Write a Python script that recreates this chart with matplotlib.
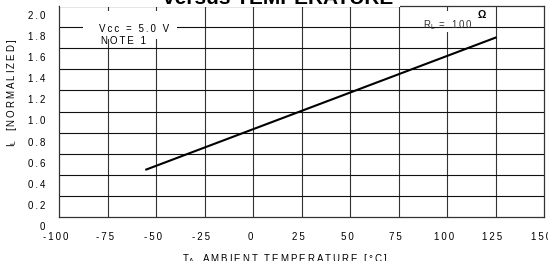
import matplotlib
matplotlib.use("Agg")
import matplotlib.pyplot as plt
import matplotlib.transforms as mtransforms
from matplotlib.patches import Rectangle

plt.rcParams['font.family'] = ['Liberation Sans', 'DejaVu Sans']

# data
temp = [-55, 125]
il_norm = [0.45, 1.70]
xticks = [-100, -75, -50, -25, 0, 25, 50, 75, 100, 125, 150]
yticks = [0, 0.2, 0.4, 0.6, 0.8, 1.0, 1.2, 1.4, 1.6, 1.8, 2.0]


def sp(s):
    # wide letter spacing like the original datasheet
    return '\u2009'.join(s)


fig = plt.figure(figsize=(5.48, 2.61), dpi=100)
ax = fig.add_axes([59/548, 44/261, 485/548, 211/261])
ax.set_xlim(-100, 150)
ax.set_ylim(0, 2.0)

# grid drawn by hand so boxes can hide parts of it
for x in xticks[1:-1]:
    ax.axvline(x, color='#333333', lw=0.8, zorder=0.5)
for y in yticks[1:-1]:
    ax.axhline(y, color='#111111', lw=0.8, zorder=1.5)

ax.plot(temp, il_norm, color='black', lw=1.5, zorder=3)

for s in ax.spines.values():
    s.set_color('#333333')
    s.set_linewidth(0.9)

ax.set_xticks(xticks)
ax.set_yticks(yticks)
ax.set_xticklabels([sp(str(v)) for v in xticks])
ax.set_yticklabels([sp('0' if v == 0 else f'{v:.1f}') for v in yticks])
ax.tick_params(length=0, labelsize=7, colors='black')
ax.tick_params(axis='y', pad=10)
ax.tick_params(axis='x', pad=11)
yoff = mtransforms.ScaledTranslation(0, -0.09, fig.dpi_scale_trans)
for lab in ax.get_yticklabels():
    lab.set_transform(lab.get_transform() + yoff)
xoff = mtransforms.ScaledTranslation(-0.03, 0, fig.dpi_scale_trans)
for lab in ax.get_xticklabels():
    lab.set_transform(lab.get_transform() + xoff)

# white boxes behind annotations
ax.add_patch(Rectangle((-87.6, 1.685), 48.4, 0.27, facecolor='white',
                       edgecolor='none', zorder=2))
ax.add_patch(Rectangle((97, 1.754), 6, 0.2, facecolor='white',
                       edgecolor='none', zorder=1))
ax.add_patch(Rectangle((0.003, 0.9965), 0.70, 0.2, transform=ax.transAxes,
                       facecolor='white', edgecolor='none', zorder=4,
                       clip_on=False))

ax.text(-79.4, 1.782, sp('Vcc = 5.0 V'), fontsize=7, va='center',
        ha='left', zorder=5)
ax.text(-78.4, 1.668, sp('NOTE 1'), fontsize=7, va='center', ha='left',
        zorder=5)
ax.text(113.5, 1.82, 'R' + '$_{\\mathregular{L}}$' + sp(' = 100'),
        fontsize=7, va='center', ha='right', color='#333333', zorder=5)
ax.text(117.8, 1.91, '\u03a9', fontsize=7.5, fontweight='bold', va='center',
        ha='center', zorder=5)

fig.text(278/548, 1 - 3.5/261, 'versus TEMPERATURE', fontsize=15,
         fontweight='bold', ha='center', va='baseline', zorder=6)
fig.text(285/548, 1 - 252/261,
         'T$_{\\mathregular{A}}$' + sp('  AMBIENT TEMPERATURE [°C]'),
         fontsize=7, ha='center', va='top')
fig.text(12/548, 1 - 93/261,
         'I$_{\\mathregular{L}}$' + sp('  [NORMALIZED]'),
         fontsize=7, ha='center', va='center', rotation=90)

fig.savefig('out.png', dpi=100)
